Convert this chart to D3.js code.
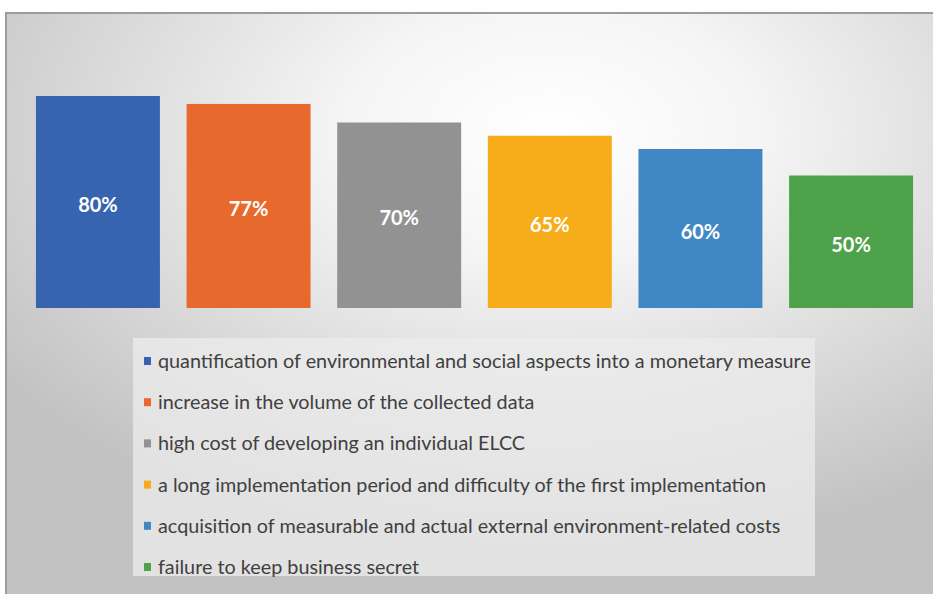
<!DOCTYPE html>
<html>
<head>
<meta charset="utf-8">
<script src="https://cdn.jsdelivr.net/npm/d3@7"></script>
<style>
  body { margin: 0; background: #fff; }
  svg { display: block; }
</style>
</head>
<body>
<svg width="933" height="594"></svg>
<script>
// data
const labels = [
  'quantification of environmental and social aspects into a monetary measure',
  'increase in the volume of the collected data',
  'high cost of developing an individual ELCC',
  'a long implementation period and difficulty of the first implementation',
  'acquisition of measurable and actual external environment-related costs',
  'failure to keep business secret'
];
const values = [80, 77, 70, 65, 60, 50];
const colors = ['#3764b0', '#e8692e', '#929292', '#f7ad1a', '#3f88c5', '#4ea34a'];

const svg = d3.select('svg');

// background frame with a soft radial shading
const defs = svg.append('defs');
const grad = defs.append('radialGradient')
  .attr('id', 'bg')
  .attr('cx', '0.58').attr('cy', '0.2')
  .attr('r', '0.72')
  .attr('fx', '0.58').attr('fy', '0.2');
grad.append('stop').attr('offset', '0').attr('stop-color', '#ffffff');
grad.append('stop').attr('offset', '0.3').attr('stop-color', '#f5f5f5');
grad.append('stop').attr('offset', '1').attr('stop-color', '#c2c2c2');

svg.append('rect')
  .attr('x', 6)
  .attr('y', 13)
  .attr('width', 940)
  .attr('height', 590)
  .style('fill', 'url(#bg)')
  .style('stroke', '#9c9c9c')
  .style('stroke-width', 2);

// scales
const x = d3.scaleBand()
  .domain(labels)
  .range([22.7, 926.3])
  .paddingInner(0.177)
  .paddingOuter(0.088);

const y = d3.scaleLinear()
  .domain([0, 100])
  .range([308, 43]);

const bars = svg.append('g');

bars.selectAll('rect')
  .data(labels)
  .join('rect')
  .attr('x', d => x(d))
  .attr('y', (d, i) => y(values[i]))
  .attr('width', x.bandwidth())
  .attr('height', (d, i) => y(0) - y(values[i]))
  .style('fill', (d, i) => colors[i]);

bars.selectAll('text')
  .data(labels)
  .join('text')
  .attr('x', d => x(d) + x.bandwidth() / 2)
  .attr('y', (d, i) => (y(values[i]) + y(0)) / 2 + 10)
  .attr('text-anchor', 'middle')
  .style('font-family', 'Lato, "Open Sans", sans-serif')
  .style('font-weight', 'bold')
  .style('font-size', '20px')
  .style('fill', '#ffffff')
  .text((d, i) => values[i] + '%');

// legend
const legend = svg.append('g');

legend.append('rect')
  .attr('x', 133)
  .attr('y', 338)
  .attr('width', 682)
  .attr('height', 238)
  .style('fill', '#ececec')
  .style('opacity', 0.75);

const row = d3.scalePoint()
  .domain(labels)
  .range([361, 567]);

const items = legend.selectAll('g')
  .data(labels)
  .join('g')
  .attr('transform', d => `translate(0,${row(d)})`);

items.append('rect')
  .attr('x', 144)
  .attr('y', -4)
  .attr('width', 7)
  .attr('height', 8)
  .style('fill', (d, i) => colors[i]);

items.append('text')
  .attr('x', 158)
  .attr('y', 7)
  .style('font-family', 'Lato, "Open Sans", sans-serif')
  .style('font-size', '19.8px')
  .style('fill', '#404040')
  .text(d => d);
</script>
</body>
</html>
